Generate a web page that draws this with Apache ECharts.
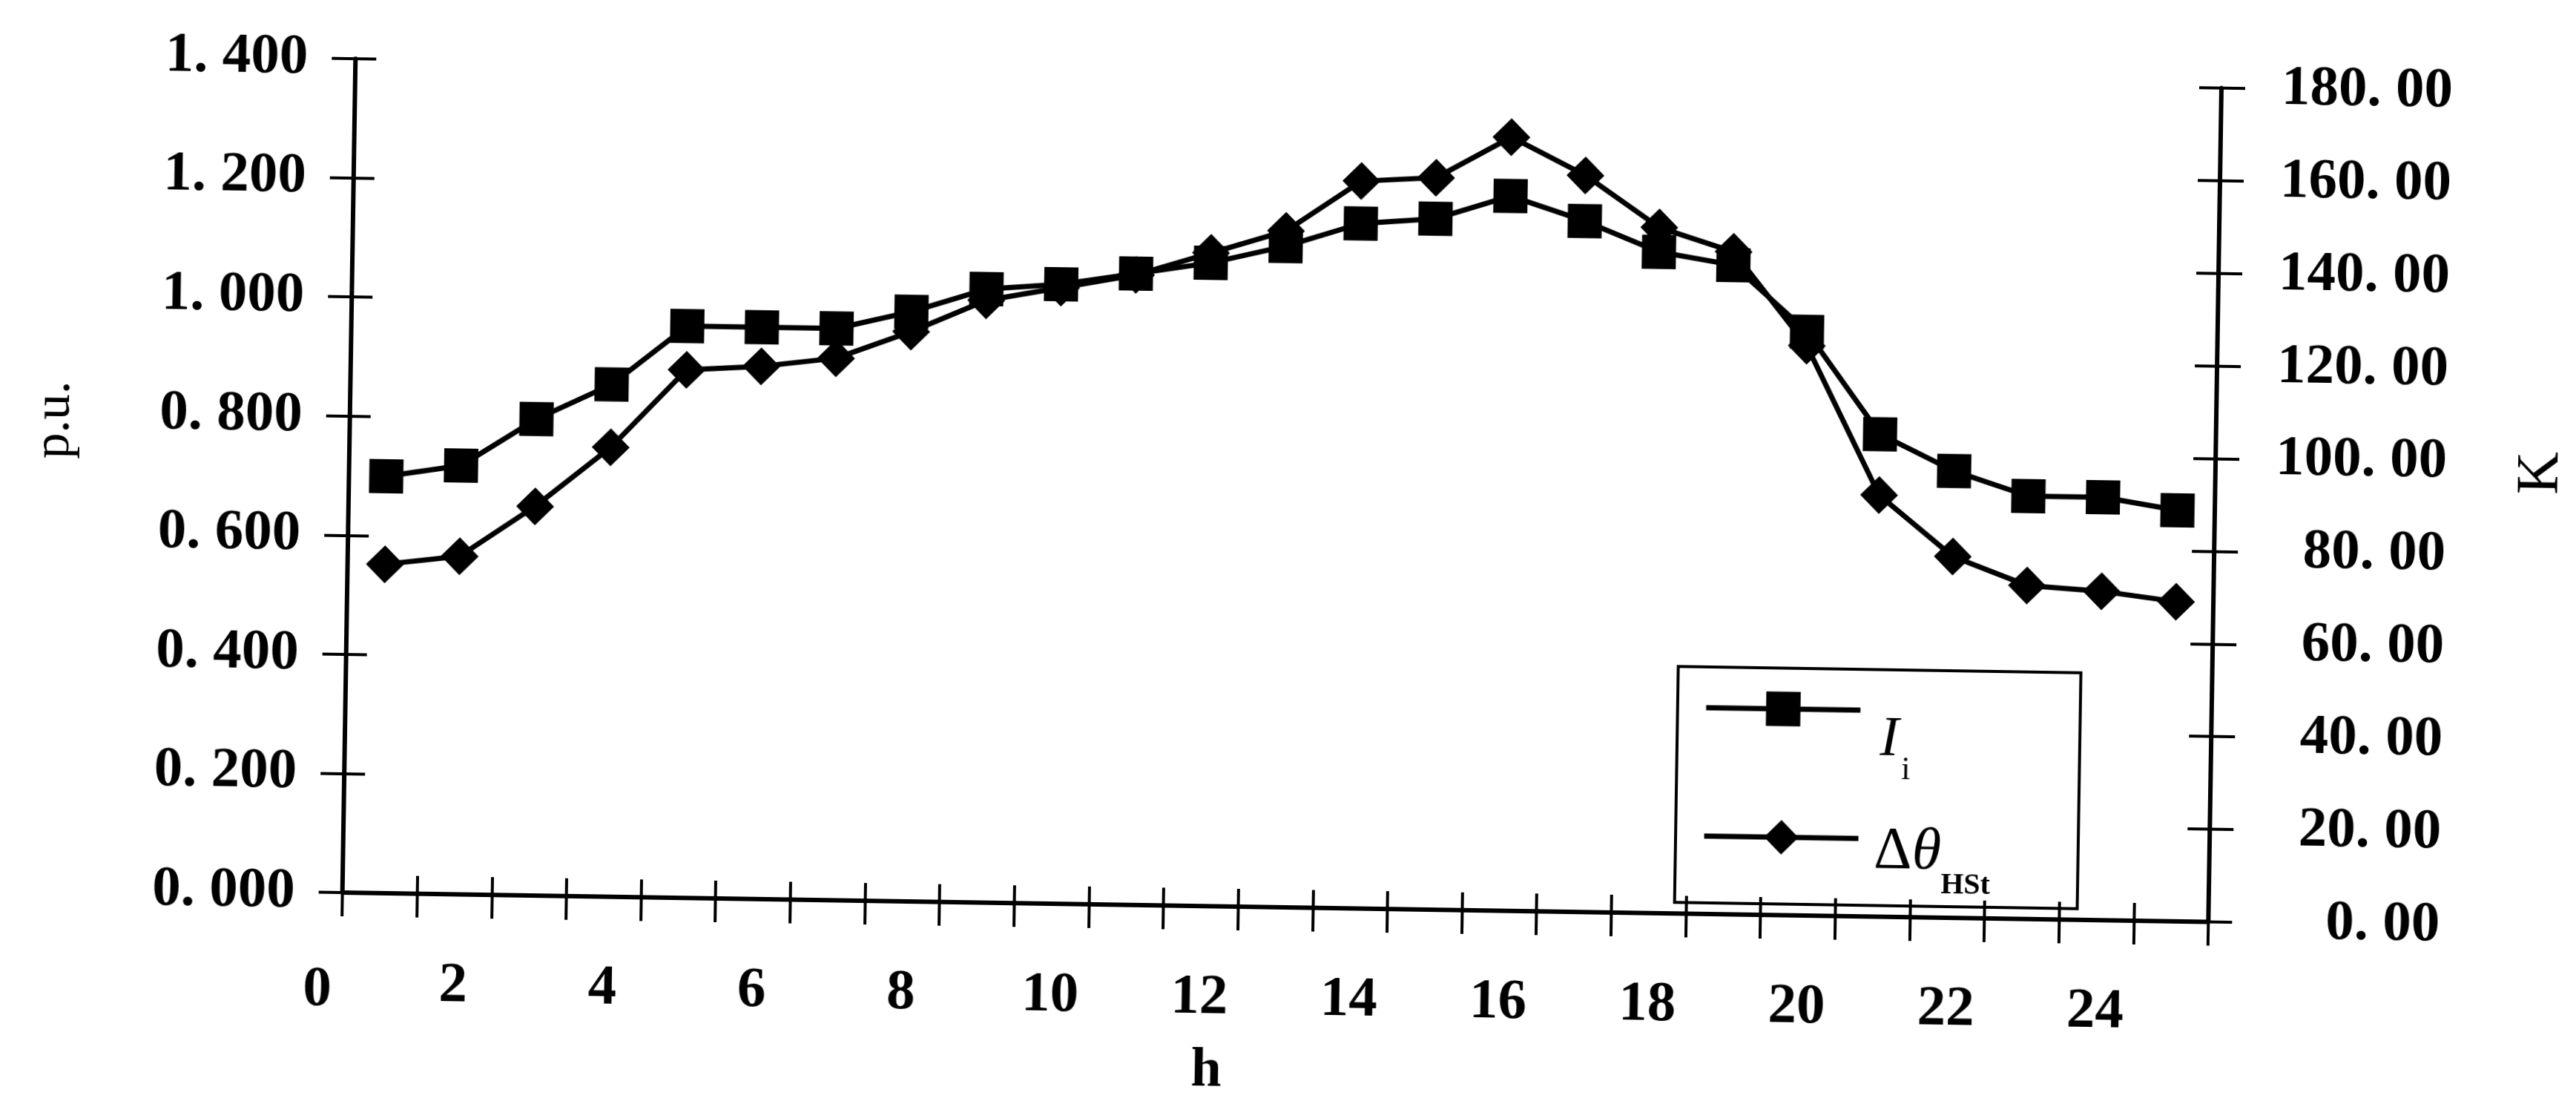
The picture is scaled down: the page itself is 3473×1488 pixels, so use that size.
<!DOCTYPE html>
<html>
<head>
<meta charset="utf-8">
<script src="https://cdn.jsdelivr.net/npm/echarts@6/dist/echarts.min.js"></script>
<style>
  html, body { margin: 0; padding: 0; background: #fff; overflow: hidden; }
  /* the printed figure sits slightly askew on the page */
  #chart { width: 3473px; height: 1488px; transform: rotate(0.9deg); transform-origin: 50% 50%; }
</style>
</head>
<body>
<div id="chart"></div>
<script>
// Hour of day for each reading (one point per hour)
const hours = ['1', '2', '3', '4', '5', '6', '7', '8', '9', '10', '11', '12', '13',
               '14', '15', '16', '17', '18', '19', '20', '21', '22', '23', '24', '25'];

// Load current I_i, per unit (left axis)
const loadCurrentPU = [0.70, 0.72, 0.80, 0.86, 0.96, 0.96, 0.96, 0.99, 1.03, 1.04, 1.06, 1.08, 1.11,
                       1.15, 1.16, 1.20, 1.16, 1.11, 1.09, 0.98, 0.81, 0.75, 0.71, 0.71, 0.69];

// Hot-spot temperature rise Δθ_HSt, K (right axis)
const hotSpotRiseK = [71, 73, 84, 97, 114, 115, 117, 123, 130, 133, 136, 141, 146,
                      157, 158, 167, 159, 148, 143, 123, 91, 78, 72, 71, 69];

// Axis ranges
const puAxis = { min: 0, max: 1.4, step: 0.2 };
const kAxis = { min: 0, max: 180, step: 20 };

const SERIF = '"Liberation Serif", "DejaVu Serif", serif';
const GRID = { left: 469, top: 99, width: 2524, height: 1132 };
const INK = '#000';
const axisLine = { show: true, lineStyle: { color: INK, width: 6 } };
const tickLine = { color: INK, width: 4 };
const numLabel = { color: INK, fontFamily: SERIF, fontWeight: 'bold', fontSize: 77 };
const X_LABEL_GAP = 86;

// "1.400" is typeset as "1. 400"
const spaced = (v, digits) => v.toFixed(digits).replace('.', '. ');

const chart = echarts.init(document.getElementById('chart'), null, { renderer: 'canvas' });

chart.setOption({
  animation: false,
  backgroundColor: '#fff',
  grid: { left: GRID.left, top: GRID.top, width: GRID.width, height: GRID.height, containLabel: false },
  xAxis: [
    {
      type: 'category', data: hours, position: 'bottom', boundaryGap: true,
      axisLine: axisLine,
      axisTick: { show: true, interval: 0, length: 32, lineStyle: tickLine },
      axisLabel: Object.assign({
        interval: 0, margin: X_LABEL_GAP,
        formatter: v => (Number(v) % 2 === 0 ? v : '')
      }, numLabel),
      splitLine: { show: false },
      name: 'h', nameLocation: 'middle', nameGap: 186,
      nameTextStyle: { color: INK, fontFamily: SERIF, fontWeight: 'bold', fontSize: 74, padding: [0, 180, 0, 0] }
    },
    {
      // ticks crossing into the plot
      type: 'category', data: hours, position: 'bottom', boundaryGap: true,
      axisLine: { show: false },
      axisTick: { show: true, inside: true, interval: 0, length: 24, lineStyle: tickLine },
      axisLabel: { show: false }, splitLine: { show: false }
    },
    {
      // top frame line
      type: 'category', data: hours, position: 'top', boundaryGap: true,
      axisLine: axisLine, axisTick: { show: false }, axisLabel: { show: false }, splitLine: { show: false }
    }
  ],
  yAxis: [
    {
      type: 'value', position: 'left', min: puAxis.min, max: puAxis.max, interval: puAxis.step,
      axisLine: axisLine,
      axisTick: { show: true, length: 32, lineStyle: tickLine },
      axisLabel: Object.assign({ margin: 64, padding: [0, 0, 30, 0], formatter: v => spaced(v, 3) }, numLabel),
      splitLine: { show: false },
      name: 'p.u.', nameLocation: 'middle', nameRotate: 90, nameGap: 362,
      nameTextStyle: { color: INK, fontFamily: SERIF, fontSize: 70, padding: [0, 0, 0, 138] }
    },
    {
      type: 'value', position: 'right', min: kAxis.min, max: kAxis.max, interval: kAxis.step,
      axisLine: axisLine,
      axisTick: { show: true, length: 32, lineStyle: tickLine },
      axisLabel: Object.assign({ margin: 312, align: 'right', padding: [0, 0, 32, 0], formatter: v => spaced(v, 2) }, numLabel),
      splitLine: { show: false },
      name: 'K', nameLocation: 'middle', nameRotate: 90, nameGap: 400,
      nameTextStyle: { color: INK, fontFamily: SERIF, fontSize: 80, padding: [0, 0, 0, 100] }
    },
    {
      type: 'value', position: 'left', min: puAxis.min, max: puAxis.max, interval: puAxis.step,
      axisLine: { show: false },
      axisTick: { show: true, inside: true, length: 28, lineStyle: tickLine },
      axisLabel: { show: false }, splitLine: { show: false }
    },
    {
      type: 'value', position: 'right', min: kAxis.min, max: kAxis.max, interval: kAxis.step,
      axisLine: { show: false },
      axisTick: { show: true, inside: true, length: 30, lineStyle: tickLine },
      axisLabel: { show: false }, splitLine: { show: false }
    }
  ],
  legend: {
    show: true, orient: 'vertical', left: 2265, top: 890,
    padding: [17, 118, 8, 35], itemGap: 31, itemWidth: 208, itemHeight: 58,
    borderColor: INK, borderWidth: 4, borderRadius: 0, backgroundColor: 'transparent',
    selectedMode: false,
    lineStyle: { color: INK, width: 7 },
    data: ['Ii', 'ΔθHSt'],
    formatter: name => (name === 'Ii' ? '{a|I}{b|i}' : '{c|Δ}{d|θ}{e|HSt}'),
    textStyle: {
      color: INK,
      rich: {
        a: { fontFamily: SERIF, fontStyle: 'italic', fontSize: 76, lineHeight: 76, verticalAlign: 'top', padding: [40, 0, 0, 22] },
        b: { fontFamily: SERIF, fontSize: 44, lineHeight: 44, verticalAlign: 'top', padding: [96, 0, 0, 4] },
        c: { fontFamily: SERIF, fontSize: 80, lineHeight: 80, verticalAlign: 'top', padding: [18, 0, 0, 16] },
        d: { fontFamily: SERIF, fontStyle: 'italic', fontSize: 80, lineHeight: 80, verticalAlign: 'top', padding: [18, 0, 0, 0] },
        e: { fontFamily: SERIF, fontWeight: 'bold', fontSize: 40, lineHeight: 40, verticalAlign: 'top', padding: [82, 0, 0, 0] }
      }
    }
  },
  graphic: [
    {
      // hour 0 label, one step left of the first reading
      type: 'text', x: GRID.left - 32, y: GRID.top + GRID.height + X_LABEL_GAP,
      style: { text: '0', fill: INK, fontFamily: SERIF, fontWeight: 'bold', fontSize: 77, align: 'center', verticalAlign: 'top' }
    }
  ],
  series: [
    {
      name: 'Ii', type: 'line', xAxisIndex: 0, yAxisIndex: 0, data: loadCurrentPU,
      symbol: 'rect', symbolSize: 46,
      lineStyle: { color: INK, width: 7 }, itemStyle: { color: INK }
    },
    {
      name: 'ΔθHSt', type: 'line', xAxisIndex: 0, yAxisIndex: 1, data: hotSpotRiseK,
      symbol: 'diamond', symbolSize: 51,
      lineStyle: { color: INK, width: 7 }, itemStyle: { color: INK }
    }
  ]
});
</script>
</body>
</html>
